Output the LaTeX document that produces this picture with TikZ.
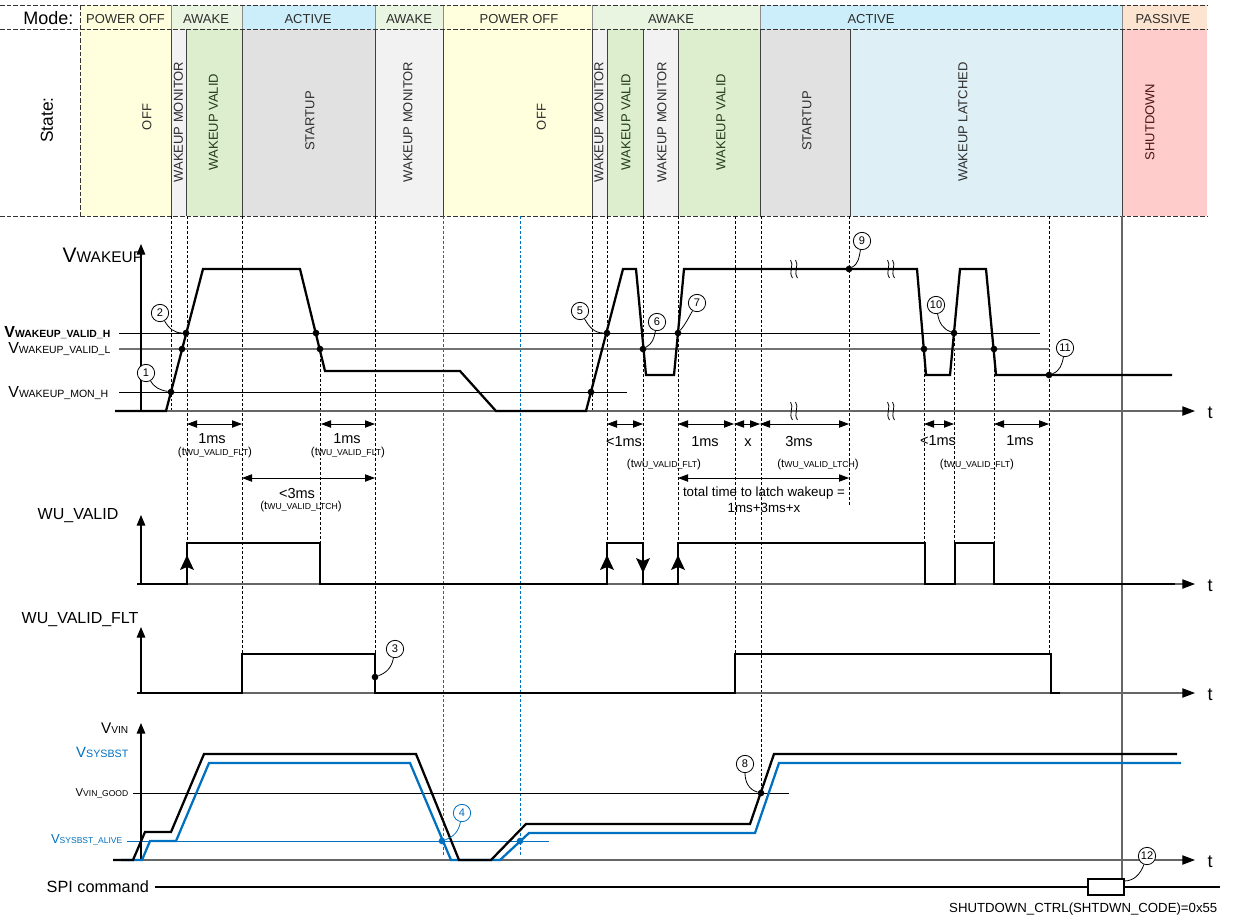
\documentclass[tikz,border=0pt]{standalone}
\usepackage{fontspec}
\setmainfont{Liberation Sans}
\usetikzlibrary{arrows.meta}

\definecolor{cOff}{RGB}{255,255,222}
\definecolor{cAwake}{RGB}{233,245,225}
\definecolor{cActive}{RGB}{204,238,250}
\definecolor{cPassive}{RGB}{253,228,208}
\definecolor{cMon}{RGB}{242,242,242}
\definecolor{cValid}{RGB}{220,238,206}
\definecolor{cStart}{RGB}{225,225,225}
\definecolor{cLatch}{RGB}{222,239,245}
\definecolor{cShut}{RGB}{255,204,204}
\definecolor{cBlue}{RGB}{0,112,192}
\definecolor{cText}{RGB}{45,45,45}
\definecolor{cGreenTxt}{RGB}{35,60,25}
\definecolor{cRedTxt}{RGB}{75,20,20}

\newcommand\fsz[1]{\fontsize{#1}{#1}\selectfont}
\newcommand\sig[4]{{\fsz{#1}#2}{\fsz{#3}#4}}
\newcommand\tpar[1]{{\fsz{8.6}(t}{\fsz{6.5}#1}{\fsz{8.6})}}
\newcommand\wuUp[1]{\fill (#1,555) -- (#1+7,570) -- (#1,567) -- (#1-7,570) -- cycle;}
\newcommand\wuDn[1]{\fill (#1,573) -- (#1+7,558) -- (#1,561) -- (#1-7,558) -- cycle;}
\newcommand\brkmark[2]{%
  \draw[line width=0.6pt] (#1-2.5,#2-9) .. controls (#1+1.5,#2-4) and (#1-5,#2+3) .. (#1-0.5,#2+9);
  \draw[line width=0.6pt] (#1+2.5,#2-9) .. controls (#1+6.5,#2-4) and (#1,#2+3) .. (#1+4.5,#2+9);}

\begin{document}
\begin{tikzpicture}[x=0.75pt,y=-0.75pt,line join=miter,
  hdash/.style={line width=0.6pt,draw=black!80,dash pattern=on 3.5pt off 1.5pt},
  vdash/.style={line width=0.6pt,dash pattern=on 2.2pt off 1.5pt},
  bdash/.style={vdash,draw=cBlue},
  wave/.style={line width=1.7pt},
  refline/.style={line width=0.6pt},
  taxis/.style={line width=0.8pt,draw=black!60,-{Triangle[length=9.5pt,width=7pt,color=black]}},
  vaxis/.style={line width=0.8pt,-{Triangle[length=8pt,width=6.5pt]}},
  dim/.style={line width=0.6pt,arrows={Triangle[length=7.5pt,width=5.5pt]-Triangle[length=7.5pt,width=5.5pt]}},
  dot/.style={circle,fill,inner sep=0pt,minimum size=5pt},
  num/.style={circle,draw,line width=0.6pt,fill=white,inner sep=0pt,minimum size=13pt,font=\fsz{8.3}},
  leader/.style={line width=0.6pt},
  modelabel/.style={font=\fsz{9.75},text=cText,anchor=base},
  statelabel/.style={font=\fsz{9.75},rotate=90},
  dimtext/.style={font=\fsz{10.9},anchor=base},
  subtext/.style={anchor=base},
  tlabel/.style={font=\fsz{13.5},anchor=base west}]
\useasboundingbox (0,0) rectangle (1234,915);

% ---------- mode row ----------
\foreach \a/\b/\c in {80/171/cOff,171/242/cAwake,242/375/cActive,375/443/cAwake,443/592/cOff,592/760/cAwake,760/1122/cActive,1122/1207/cPassive}
  \fill[\c] (\a,5) rectangle (\b,29);
% ---------- state row ----------
\foreach \a/\b/\c in {80/171/cOff,171/186/cMon,186/242/cValid,242/375/cStart,375/443/cMon,443/592/cOff,592/607/cMon,607/643/cValid,643/678/cMon,678/760/cValid,760/850/cStart,850/1122/cLatch,1122/1207/cShut}
  \fill[\c] (\a,29) rectangle (\b,216);
\foreach \x in {171,242,375,443,592,760,1122}
  \draw[black!45,line width=0.5pt] (\x,5) -- (\x,29);
\foreach \x in {171,186,242,375,443,592,607,643,678,760,850,1122}
  \draw[black!75,line width=0.5pt] (\x,29) -- (\x,216);
\draw[hdash] (80,5) -- (80,216);
\foreach \y in {5,29,216}
  \draw[hdash] (0,\y) -- (1207,\y);

\node[font=\fsz{13.5},anchor=base east] (modehdr) at (78,24) {Mode:};
\node[font=\fsz{13},rotate=90] (statehdr) at (47,120) {State:};

\foreach \x/\t [count=\i] in {125.5/POWER OFF,206/AWAKE,308/ACTIVE,409/AWAKE,519/POWER OFF,671/AWAKE,871/ACTIVE,1163/PASSIVE}
  \node[modelabel] (mode\i) at (\x,23.3) {\t};

\foreach \x/\y/\t/\c [count=\i] in {147/117/OFF/cText,178.5/122/WAKEUP MONITOR/cText,213.5/122/WAKEUP VALID/cGreenTxt,310/121/STARTUP/cText,408/122/WAKEUP MONITOR/cText,541.5/117/OFF/cText,599/122/WAKEUP MONITOR/cText,626/122/WAKEUP VALID/cGreenTxt,662/122/WAKEUP MONITOR/cText,721/122/WAKEUP VALID/cGreenTxt,807/121/STARTUP/cText,963/122/WAKEUP LATCHED/cText,1150/122/SHUTDOWN/cRedTxt}
  \node[statelabel,text=\c] (state\i) at (\x,\y) {\t};

% ---------- vertical guide lines ----------
\foreach \x/\a/\b in {171/216/411,187/216/543,242/216/654,320/349/543,375/216/654,592/216/411,607/216/543,643/216/543,678/216/543,735/216/654,761/216/793,849/216/505,924/349/543,954/333/543,994/349/543,1049/216/654}
  \draw[vdash] (\x,\a) -- (\x,\b);
\draw[bdash] (443,216) -- (443,855);
\draw[bdash] (520,216) -- (520,855);
\draw[black!60,line width=0.8pt] (1122,216) -- (1122,879);

% ---------- V_WAKEUP ----------
\node[anchor=base west] (lwake) at (58,262) {\sig{15.75}{V}{11.6}{WAKEUP}};
\node[anchor=base east] (lvh) at (115,337) {\bfseries\sig{12}{V}{7.8}{WAKEUP\_VALID\_H}};
\node[anchor=base east] (lvl) at (115,353) {\sig{12}{V}{7.8}{WAKEUP\_VALID\_L}};
\node[anchor=base east] (lmon) at (113,397) {\sig{12}{V}{7.9}{WAKEUP\_MON\_H}};

\draw[refline] (119,333) -- (1040,333);
\draw[line width=1.1pt,black!55] (119,349) -- (1049,349);
\draw[refline] (119,392) -- (627,392);

\draw[taxis] (115,411) -- (1195,411);
\node[tlabel] (t1) at (1203,418) {t};
\draw[vaxis] (141,411) -- (141,244);

\draw[wave] (115,411) -- (166,411) -- (203,269) -- (300,269) -- (325,371) -- (460,371) -- (496,411) -- (586,411)
  -- (623,269) -- (636,269) -- (646,375) -- (674,375) -- (684,269) -- (917,269) -- (926,375) -- (950,375)
  -- (960,269) -- (986,269) -- (996,375) -- (1172,375);

\brkmark{793}{269}
\brkmark{890}{269}
\brkmark{793}{411}
\brkmark{890}{411}

\node[dot] (d1) at (171,392) {};
\node[dot] (d2) at (186,333) {};
\node[dot] (d2b) at (182,349) {};
\node[dot] (d2c) at (316,333) {};
\node[dot] (d2d) at (320,349) {};
\node[dot] (d5a) at (591,392) {};
\node[dot] (d5) at (607,333) {};
\node[dot] (d6) at (643,349) {};
\node[dot] (d7) at (678,333) {};
\node[dot] (d9) at (849,269) {};
\node[dot] (d10a) at (924,349) {};
\node[dot] (d10) at (954,333) {};
\node[dot] (d10b) at (994,349) {};
\node[dot] (d11) at (1049,375) {};

\node[num] (n1) at (146,373) {1};
\node[num] (n2) at (160,313) {2};
\node[num] (n5) at (580,311) {5};
\node[num] (n6) at (657,322) {6};
\node[num] (n7) at (697,303) {7};
\node[num] (n9) at (862,241) {9};
\node[num] (n10) at (936,305) {10};
\node[num] (n11) at (1065,348) {11};
\draw[leader] (n1) to[out=-60,in=170] (d1);
\draw[leader] (n2) to[out=-60,in=180] (d2);
\draw[leader] (n5) to[out=-60,in=180] (d5);
\draw[leader] (n6) to[out=-100,in=30] (d6);
\draw[leader] (n7) to[out=-120,in=50] (d7);
\draw[leader] (n9) to[out=-100,in=30] (d9);
\draw[leader] (n10) to[out=-80,in=160] (d10);
\draw[leader] (n11) to[out=-100,in=20] (d11);

% timing dimensions
\draw[dim] (187,424) -- (242,424);
\draw[dim] (321,424) -- (375,424);
\draw[dim] (242,478) -- (375,478);
\draw[dim] (607,424) -- (643,424);
\draw[dim] (678,424) -- (734,424);
\draw[dim] (734,424) -- (760,424);
\draw[dim] (760,424) -- (849,424);
\draw[dim] (678,478) -- (849,478);
\draw[dim] (924,424) -- (954,424);
\draw[dim] (994,424) -- (1049,424);

\node[dimtext] (m1) at (212,443) {1ms};
\node[subtext] (s1) at (215,455) {\tpar{WU\_VALID\_FLT}};
\node[dimtext] (m2) at (347,443) {1ms};
\node[subtext] (s2) at (348,455) {\tpar{WU\_VALID\_FLT}};
\node[dimtext] (m3) at (297,498) {<3ms};
\node[subtext] (s3) at (301,509) {\tpar{WU\_VALID\_LTCH}};
\node[dimtext] (m4) at (624,446) {<1ms};
\node[subtext] (s4) at (664,467) {\tpar{WU\_VALID\_FLT}};
\node[dimtext] (m5) at (705,446) {1ms};
\node[dimtext] (m6) at (748,446) {x};
\node[dimtext] (m7) at (799,446) {3ms};
\node[subtext] (s7) at (818,467) {\tpar{WU\_VALID\_LTCH}};
\node[font=\fsz{10},anchor=base] (m8) at (764,496) {total time to latch wakeup =};
\node[font=\fsz{10},anchor=base] (m9) at (764,512) {1ms+3ms+x};
\node[dimtext] (m10) at (938,445) {<1ms};
\node[subtext] (s10) at (977,467) {\tpar{WU\_VALID\_FLT}};
\node[dimtext] (m11) at (1020,445) {1ms};

% ---------- WU_VALID ----------
\node[font=\fsz{12},anchor=base west] (lwu) at (33,519) {WU\_VALID};
\draw[taxis] (137,584) -- (1195,584);
\node[tlabel] (t2) at (1203,591) {t};
\draw[vaxis] (141,584) -- (141,515);
\draw[wave] (137,584) -- (187,584) -- (187,543) -- (320,543) -- (320,584) -- (607,584) -- (607,543) -- (643,543)
  -- (643,584) -- (678,584) -- (678,543) -- (925,543) -- (925,584) -- (955,584) -- (955,543) -- (994,543)
  -- (994,584) -- (1175,584);
\wuUp{187}
\wuUp{607}
\wuUp{678}
\wuDn{643}

% ---------- WU_VALID_FLT ----------
\node[font=\fsz{12},anchor=base west] (lflt) at (17,623) {WU\_VALID\_FLT};
\draw[taxis] (137,693) -- (1195,693);
\node[tlabel] (t3) at (1203,700) {t};
\draw[vaxis] (141,693) -- (141,627);
\draw[wave] (137,693) -- (242,693) -- (242,654) -- (375,654) -- (375,693) -- (735,693) -- (735,654) -- (1051,654)
  -- (1051,693) -- (1060,693);
\node[dot] (d3) at (375,677) {};
\node[num] (n3) at (395,649) {3};
\draw[leader] (n3) to[out=-100,in=20] (d3);

% ---------- V_VIN / V_SYSBST ----------
\node[anchor=base east] (lvin) at (133,733) {\sig{11.5}{V}{7.6}{VIN}};
\node[anchor=base east,text=cBlue] (lsys) at (133,757) {\sig{11.2}{V}{8}{SYSBST}};
\node[anchor=base east] (lgood) at (133,796) {\sig{8.5}{V}{6.4}{VIN\_GOOD}};
\node[anchor=base east,text=cBlue] (lalive) at (127,843) {\sig{9.75}{V}{6.4}{SYSBST\_ALIVE}};

\draw[refline] (133,793) -- (789,793);
\draw[refline,cBlue] (127,841) -- (549,841);
\draw[taxis] (113,860) -- (1195,860);
\node[tlabel] (t4) at (1203,867) {t};
\draw[vaxis] (141,860) -- (141,723);

\draw[wave,cBlue] (121,860) -- (142,860) -- (150,841) -- (176,841) -- (209,763) -- (410,763) -- (451,860)
  -- (500,860) -- (529,833) -- (755,833) -- (779,763) -- (1181,763);
\draw[wave] (113,860) -- (133,860) -- (145,832) -- (171,832) -- (204,754) -- (416,754) -- (459,860)
  -- (491,860) -- (526,824) -- (750,824) -- (774,754) -- (1177,754);

\node[dot,fill=cBlue] (d4) at (442,841) {};
\node[dot,fill=cBlue] (d4b) at (520,841) {};
\node[num,draw=cBlue,text=cBlue] (n4) at (462,813) {4};
\draw[leader,cBlue] (n4) to[out=-100,in=20] (d4);
\node[dot] (d8) at (761,793) {};
\node[num] (n8) at (745,764) {8};
\draw[leader] (n8) to[out=-90,in=165] (d8);

% ---------- SPI command ----------
\node[font=\fsz{12.2},anchor=base west] (lspi) at (42,892) {SPI command};
\node[draw,line width=1pt,fill=white,minimum width=27pt,minimum height=12pt,inner sep=0pt] (spibox) at (1106,887) {};
\draw[line width=1.5pt] (155,887) -- (spibox.west);
\draw[line width=1.5pt] (spibox.east) -- (1220,887);
\coordinate (boxin) at (1124,881);
\node[num] (n12) at (1147,856) {12};
\draw[leader] (n12) to[out=-110,in=0] (boxin);
\node[font=\fsz{9.9},anchor=base east] (lcmd) at (1222,912) {SHUTDOWN\_CTRL(SHTDWN\_CODE)=0x55};

\end{tikzpicture}
\end{document}
